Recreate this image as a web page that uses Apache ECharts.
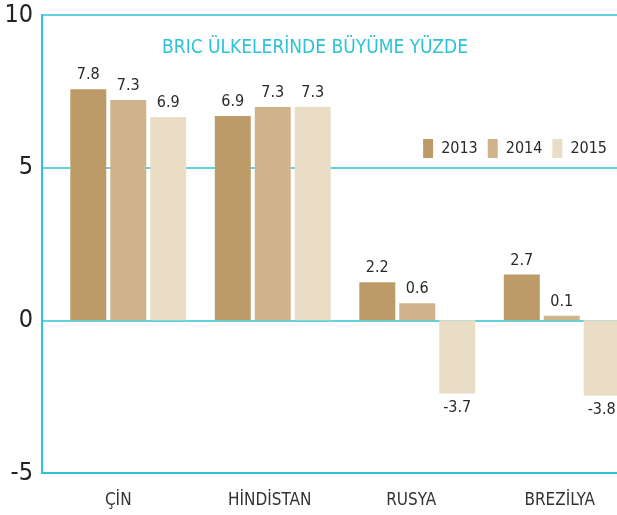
<!DOCTYPE html>
<html>
<head>
<meta charset="utf-8">
<script src="https://cdn.jsdelivr.net/npm/echarts@6/dist/echarts.min.js"></script>
<style>
html, body { margin: 0; padding: 0; background: #fff; }
#chart { width: 617px; height: 515px; }
</style>
</head>
<body>
<div id="chart"></div>
<script>
// kategori ve seriler
var countries = ['ÇİN', 'HİNDİSTAN', 'RUSYA', 'BREZİLYA'];
var years = ['2013', '2014', '2015'];
// bar heights as drawn in the picture
var bars2013 = [7.57, 6.69, 1.25, 1.50];
var bars2014 = [7.22, 6.99, 0.56, 0.15];
var bars2015 = [6.66, 6.99, -2.40, -2.47];
// printed value labels
var labels2013 = ['7.8', '6.9', '2.2', '2.7'];
var labels2014 = ['7.3', '7.3', '0.6', '0.1'];
var labels2015 = ['6.9', '7.3', '-3.7', '-3.8'];
var yTicks = [-5, 0, 5, 10];

var FONT = '"DejaVu Sans Condensed", "DejaVu Sans", sans-serif';
var WEIGHT = 'normal condensed';
var CYAN = '#2cc3d5';
var colors = ['#bd9b68', '#d0b38b', '#e9ddc6'];
// category labels sit a little left of their bar groups in the original
var labelPadRight = [20, 6, 12, 4];

function makeSeries(name, values, labels, color) {
    return {
        name: name,
        type: 'bar',
        xAxisIndex: 1,
        yAxisIndex: 1,
        barWidth: 36,
        barGap: '11%',
        itemStyle: { color: color },
        label: {
            show: true,
            fontFamily: FONT,
            fontWeight: WEIGHT,
            fontSize: 16,
            color: '#2a2a2a',
            distance: 6,
            formatter: function (p) { return labels[p.dataIndex]; }
        },
        data: values.map(function (v) {
            return { value: v, label: { position: v < 0 ? 'bottom' : 'top' } };
        })
    };
}

var myChart = echarts.init(document.getElementById('chart'));
var option = {
    backgroundColor: '#fff',
    animation: false,
    title: {
        text: 'BRIC ÜLKELERİNDE BÜYÜME YÜZDE',
        left: 310,
        textAlign: 'center',
        top: 34,
        textStyle: { color: CYAN, fontFamily: FONT, fontSize: 19, fontWeight: WEIGHT }
    },
    legend: {
        data: years,
        right: 10,
        top: 139,
        padding: 0,
        itemWidth: 10,
        itemHeight: 19,
        itemGap: 10,
        icon: 'rect',
        textStyle: { fontFamily: FONT, fontWeight: WEIGHT, fontSize: 16, color: '#2a2a2a', padding: [0, 0, 0, 3] }
    },
    grid: [
        { left: 42, right: 0, top: 15, bottom: 42, outerBoundsMode: 'none' },
        { left: 56, width: 578, top: 15, bottom: 42, outerBoundsMode: 'none' }
    ],
    xAxis: [{
        type: 'value',
        gridIndex: 0,
        min: 0,
        max: 1,
        axisLine: { show: true, onZero: false, lineStyle: { color: CYAN, width: 2 } },
        axisTick: { show: false },
        axisLabel: { show: false },
        splitLine: { show: false }
    }, {
        type: 'category',
        gridIndex: 1,
        data: countries.map(function (c, i) {
            return { value: c, textStyle: { padding: [0, labelPadRight[i], 0, 0] } };
        }),
        axisLine: { show: false },
        axisTick: { show: false },
        axisLabel: { fontFamily: FONT, fontWeight: WEIGHT, fontSize: 17, color: '#333', margin: 19 }
    }],
    yAxis: [{
        type: 'value',
        gridIndex: 0,
        min: yTicks[0],
        max: yTicks[yTicks.length - 1],
        interval: 5,
        axisLine: { show: true, lineStyle: { color: CYAN, width: 2 } },
        axisTick: { show: false },
        axisLabel: { fontFamily: FONT, fontWeight: WEIGHT, fontSize: 25, color: '#222', margin: 9 },
        splitLine: { show: true, lineStyle: { color: CYAN, width: 1.5 } }
    }, {
        type: 'value',
        gridIndex: 1,
        min: yTicks[0],
        max: yTicks[yTicks.length - 1],
        interval: 5,
        show: false
    }],
    series: [
        makeSeries(years[0], bars2013, labels2013, colors[0]),
        makeSeries(years[1], bars2014, labels2014, colors[1]),
        makeSeries(years[2], bars2015, labels2015, colors[2])
    ]
};
myChart.setOption(option);
</script>
</body>
</html>
